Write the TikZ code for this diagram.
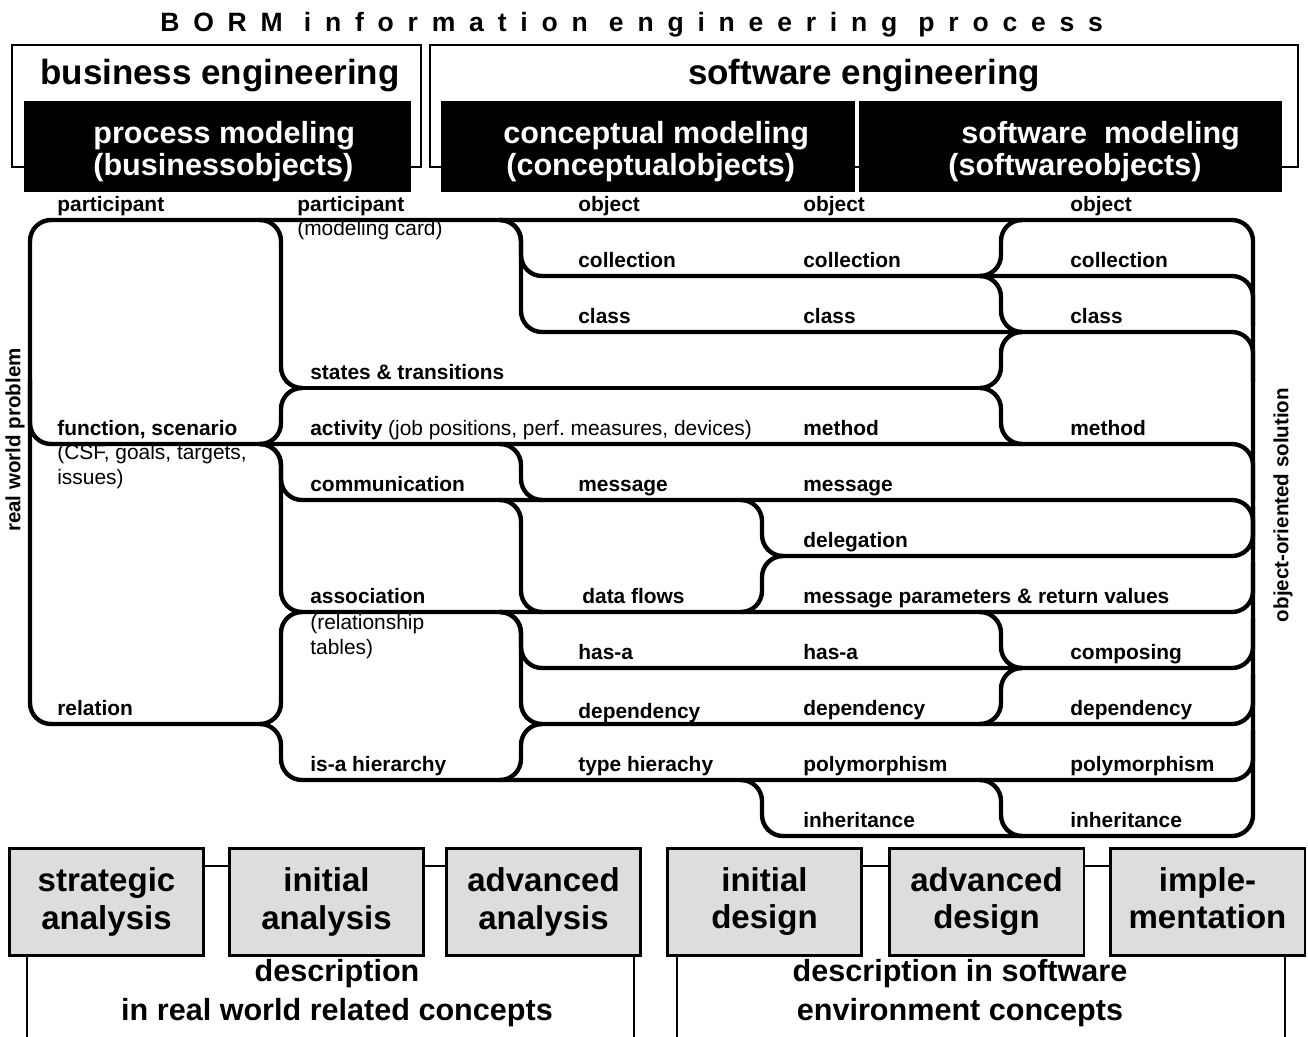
\documentclass[tikz,border=0pt]{standalone}
\usepackage{fontspec}
\setmainfont{Liberation Sans}
\newfontfamily\spacedfont[LetterSpace=52]{Liberation Sans}
\definecolor{boxgray}{RGB}{221,221,221}
\frenchspacing

% sizes of the labels
\newcommand{\lblsize}{\fontsize{11.9}{14.2}\selectfont}
% switch between two rails: from row #2 left of column #1 to row #3 right of it
\newcommand{\railbranch}[3]{%
  \draw[rail] (#1-21,#2) -- (#1,#2) -- (#1,#3) -- (#1+21,#3);}

\tikzset{
  rail/.style={line width=2.5pt, rounded corners=0.42cm},
  frame/.style={line width=1.1pt},
  lbl/.style={anchor=base west, inner sep=0pt, font=\bfseries\lblsize},
  note/.style={anchor=base west, inner sep=0pt, font=\lblsize},
  side/.style={rotate=90, inner sep=0pt, font=\bfseries\fontsize{11.7}{14}\selectfont},
  head/.style={anchor=base, inner sep=0pt, font=\bfseries\fontsize{19.9}{24}\selectfont},
  boxtext/.style={anchor=base west, inner sep=0pt, text=white, font=\bfseries\fontsize{17.4}{20}\selectfont},
  phase/.style={draw, line width=1.7pt, fill=boxgray, minimum width=3.9cm, minimum height=2.14cm,
    align=center, inner sep=0pt, font=\bfseries\fontsize{18.8}{21.6}\selectfont},
  desc/.style={align=center, inner sep=0pt, font=\bfseries\fontsize{17.4}{22.2}\selectfont},
}

\begin{document}
\begin{tikzpicture}[x=0.02cm, y=-0.02cm]
\useasboundingbox (0,0) rectangle (1308,1036);

% title
\node[anchor=base west, inner sep=0pt, font=\spacedfont\bfseries\fontsize{15.1}{18}\selectfont] (title) at (160,31) {BORM information engineering process};

% engineering frames
\draw[frame] (12,45) rectangle (421,167);
\draw[frame] (430,45) rectangle (1298,167);
\node[head] (be) at (220,84) {business engineering};
\node[head] (se) at (864,84) {software engineering};

% modeling boxes
\fill (24,101) rectangle (411,192);
\fill (441,101) rectangle (855,192);
\fill (859,101) rectangle (1282,192);
\node[boxtext] (pm1) at (93,143) {process modeling};
\node[boxtext] (pm2) at (93,175) {(businessobjects)};
\node[boxtext] (cm1) at (503,143) {conceptual modeling};
\node[boxtext] (cm2) at (506,175) {(conceptualobjects)};
\node[boxtext] (sm1) at (961,143) {software~~modeling};
\node[boxtext] (sm2) at (948,175) {(softwareobjects)};

% outer rail: relation, left side, top, right side, inheritance
\draw[rail] (260,724) -- (30,724) -- (30,220) -- (1253,220) -- (1253,836) -- (783,836);
% function / activity / method
\draw[rail] (30,380) -- (30,444) -- (1253,444) -- (1253,500);
% rails running into the right side from above
\foreach \x/\y in {542/276, 542/332, 302/500}
  \draw[rail] (\x,\y) -- (1253,\y) -- (1253,\y+50);
% rails running into the right side from below
\foreach \x/\y in {783/556, 302/612, 542/668, 542/724, 302/780}
  \draw[rail] (\x,\y) -- (1253,\y) -- (1253,\y-50);
% states & transitions
\draw[rail] (302,388) -- (980,388);

% switches
\foreach \a/\b in {220/388, 444/388, 444/500, 444/612, 724/612, 724/780}
  {\railbranch{281}{\a}{\b}}
\foreach \a/\b in {220/276, 220/332, 444/500, 500/612, 612/668, 612/724, 780/724}
  {\railbranch{521}{\a}{\b}}
\foreach \a/\b in {500/556, 612/556, 780/836}
  {\railbranch{762}{\a}{\b}}
\foreach \a/\b in {276/220, 276/332, 388/332, 388/444, 612/668, 724/668, 780/836}
  {\railbranch{1001}{\a}{\b}}

% side labels
\node[side] (rwp) at (15,440) {real world problem};
\node[side] (oos) at (1283,505) {object-oriented solution};

% process modeling
\foreach \t/\y [count=\i] in {participant/211, {function, scenario}/435, relation/715}
  \node[lbl] (pa\i) at (57,\y) {\t};
\node[note] (csf1) at (57,459) {(CSF, goals, targets,};
\node[note] (csf2) at (57,484) {issues)};
\node[lbl] (pb0) at (297,211) {participant};
\node[note] (card) at (297,235) {(modeling card)};
\foreach \t/\y [count=\i] in {states \& transitions/379, communication/491, association/603, is-a hierarchy/771}
  \node[lbl] (pb\i) at (310,\y) {\t};
\node[lbl] (act) at (310,435) {activity {\mdseries(job positions, perf. measures, devices)}};
\node[note] (rel1) at (310,629) {(relationship};
\node[note] (rel2) at (310,654) {tables)};

% conceptual modeling
\foreach \t/\y [count=\i] in {object/211, collection/267, class/323, message/491, has-a/659, dependency/718, type hierachy/771}
  \node[lbl] (pc\i) at (578,\y) {\t};
\node[lbl] (flows) at (582,603) {data flows};
\foreach \t/\y [count=\i] in {object/211, collection/267, class/323, method/435, message/491, delegation/547,
    message parameters \& return values/603, has-a/659, dependency/715, polymorphism/771, inheritance/827}
  \node[lbl] (pd\i) at (803,\y) {\t};

% software modeling
\foreach \t/\y [count=\i] in {object/211, collection/267, class/323, method/435, composing/659, dependency/715, polymorphism/771, inheritance/827}
  \node[lbl] (ps\i) at (1070,\y) {\t};

% description frames
\draw[frame] (27,955) -- (27,1040);
\draw[frame] (634,955) -- (634,1040);
\draw[frame] (677,955) -- (677,1040);
\draw[frame] (1285,955) -- (1285,1040);

% phases
\node[phase] (sa) at (106.5,901.5) {strategic\\analysis};
\node[phase] (ia) at (326.5,901.5) {initial\\analysis};
\node[phase] (aa) at (543.5,901.5) {advanced\\analysis};
\node[phase] (id) at (764.5,901.5) {initial\\design};
\node[phase] (ad) at (986.5,901.5) {advanced\\design};
\node[phase] (im) at (1207.5,901.5) {imple-\\mentation\vphantom{g}};
\foreach \a/\b in {sa/ia, ia/aa, id/ad, ad/im}
  \draw[frame] ([yshift=0.71cm]\a.east) -- ([yshift=0.71cm]\b.west);

\node[desc] (dl) at (337,993) {description\\in real world related concepts};
\node[desc] (dr) at (960,993) {description in software\\environment concepts};
\end{tikzpicture}
\end{document}
